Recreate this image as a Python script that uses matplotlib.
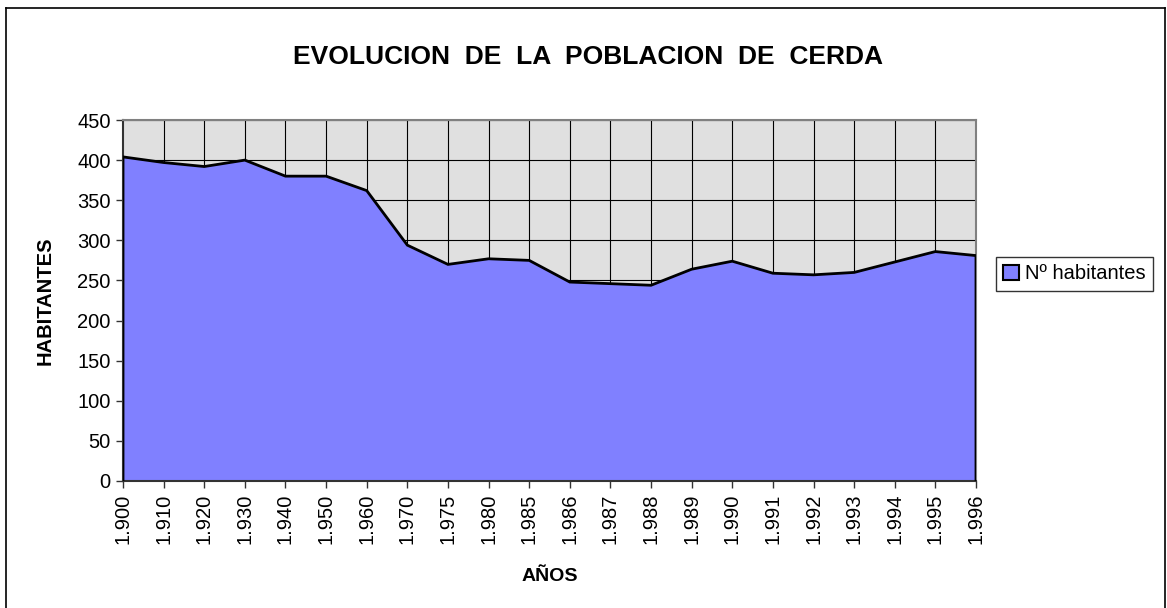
import matplotlib
matplotlib.use("Agg")
import matplotlib.pyplot as plt
import numpy as np
from matplotlib.patches import Patch
from matplotlib.lines import Line2D

plt.rcParams['font.family'] = ['Liberation Sans', 'DejaVu Sans']

years = ["1.900", "1.910", "1.920", "1.930", "1.940", "1.950", "1.960", "1.970",
         "1.975", "1.980", "1.985", "1.986", "1.987", "1.988", "1.989", "1.990",
         "1.991", "1.992", "1.993", "1.994", "1.995", "1.996"]
habitantes = [404, 397, 392, 400, 380, 380, 362, 294, 270, 277, 275, 248, 246, 244,
              264, 274, 259, 257, 260, 273, 286, 281]
yticks = [0, 50, 100, 150, 200, 250, 300, 350, 400, 450]

W, H = 1167, 608
fig = plt.figure(figsize=(W / 100, H / 100), dpi=100)
fig.patch.set_facecolor('white')

# outer chart border
for xs, ys in [((6, 1165), (H - 8, H - 8)), ((6, 6), (H - 8, 0)), ((1165, 1165), (H - 8, 0))]:
    fig.add_artist(Line2D([x / W for x in xs], [y / H for y in ys], color='black', lw=1.2))

L, R, T, B = 123, 976, 120, 481
ax = fig.add_axes([L / W, 1 - B / H, (R - L) / W, (B - T) / H])
ax.set_facecolor('#E0E0E0')

x = np.arange(len(years))
ax.fill_between(x, habitantes, 0, facecolor='#8080FF', edgecolor='none', zorder=2)
ax.plot(np.concatenate(([x[0]], x, [x[-1]])),
        np.concatenate(([0], habitantes, [0])),
        color='black', lw=2, zorder=3, solid_joinstyle='miter')

ax.set_xlim(0, len(years) - 1)
ax.set_ylim(0, 450)
ax.set_yticks(yticks)
ax.set_yticklabels([str(v) for v in yticks], fontsize=14.5)
ax.set_xticks(x)
ax.set_xticklabels(years, rotation=90, fontsize=14.5)
ax.tick_params(axis='both', direction='out', length=5, width=1, color='#333333', pad=4)

for v in yticks[1:]:
    ax.axhline(v, color='black', lw=0.8, zorder=1)
for xi in x[1:-1]:
    ax.axvline(xi, color='black', lw=0.8, zorder=1)

for s in ax.spines.values():
    s.set_color('#808080')
    s.set_linewidth(1.5)
ax.spines['left'].set_color('#333333')
ax.spines['bottom'].set_color('#333333')

ax.set_ylabel('HABITANTES', fontsize=14.5, fontweight='bold', labelpad=16)
ax.set_xlabel('AÑOS', fontsize=14, fontweight='bold', labelpad=17)
fig.text(588 / W, 1 - 57 / H, 'EVOLUCION  DE  LA  POBLACION  DE  CERDA',
         ha='center', va='center', fontsize=19, fontweight='bold')

leg = fig.legend(handles=[Patch(facecolor='#8080FF', edgecolor='black', lw=1.5, label='Nº habitantes')],
                 loc='center left', bbox_to_anchor=(996 / W, 1 - 274 / H),
                 fontsize=14.5, frameon=True, fancybox=False, borderpad=0.35,
                 handlelength=0.8, handleheight=0.8, handletextpad=0.3, borderaxespad=0)
leg.get_frame().set_edgecolor('black')
leg.get_frame().set_linewidth(1)

fig.savefig('out.png', dpi=100, facecolor='white')
